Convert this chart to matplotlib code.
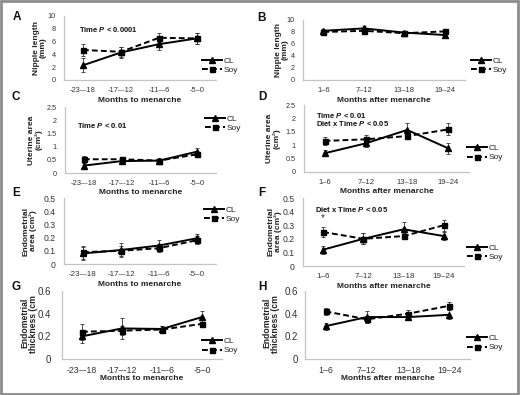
import matplotlib
matplotlib.use('Agg')
import matplotlib.pyplot as plt
from matplotlib.lines import Line2D
from matplotlib.patches import Rectangle
from matplotlib.ticker import FuncFormatter
from matplotlib.transforms import Bbox

plt.rcParams['font.family'] = ['Liberation Sans', 'DejaVu Sans']
plt.rcParams['mathtext.fontset'] = 'custom'
plt.rcParams['mathtext.rm'] = 'Liberation Sans:bold'
plt.rcParams['mathtext.it'] = 'Liberation Sans:italic:bold'

W, H = 520, 395

before_labels = ['-23–-18', '-17–-12', '-11–-6', '-5–0']
after_labels = ['1–6', '7–12', '13–18', '19–24']

# nipple length (mm)
nipple_before_cl = [2.3, 4.3, 5.6, 6.5]
nipple_before_cl_err = [1.1, 0.8, 0.9, 0.9]
nipple_before_soy = [4.7, 4.4, 6.6, 6.5]
nipple_before_soy_err = [0.9, 0.8, 0.7, 0.9]
nipple_after_cl = [8.2, 8.6, 7.9, 7.5]
nipple_after_cl_err = [0.3, 0.4, 0.3, 0.3]
nipple_after_soy = [8.0, 8.2, 7.8, 8.1]
nipple_after_soy_err = [0.3, 0.3, 0.3, 0.3]

# uterine area (cm2)
uterine_before_cl = [0.28, 0.45, 0.47, 0.81]
uterine_before_cl_err = [0.08, 0.08, 0.06, 0.13]
uterine_before_soy = [0.52, 0.52, 0.47, 0.71]
uterine_before_soy_err = [0.14, 0.08, 0.08, 0.1]
uterine_after_cl = [0.70, 1.07, 1.57, 0.88]
uterine_after_cl_err = [0.12, 0.15, 0.27, 0.2]
uterine_after_soy = [1.16, 1.22, 1.34, 1.59]
uterine_after_soy_err = [0.15, 0.15, 0.12, 0.22]

# endometrial area (cm2)
endo_area_before_cl = [0.08, 0.106, 0.14, 0.195]
endo_area_before_cl_err = [0.05, 0.05, 0.04, 0.035]
endo_area_before_soy = [0.09, 0.10, 0.12, 0.18]
endo_area_before_soy_err = [0.05, 0.04, 0.03, 0.03]
endo_area_after_cl = [0.12, 0.20, 0.27, 0.22]
endo_area_after_cl_err = [0.03, 0.04, 0.055, 0.03]
endo_area_after_soy = [0.25, 0.20, 0.22, 0.30]
endo_area_after_soy_err = [0.035, 0.04, 0.02, 0.04]

# endometrial thickness (cm)
endo_thick_before_cl = [0.20, 0.27, 0.265, 0.37]
endo_thick_before_cl_err = [0.06, 0.09, 0.03, 0.05]
endo_thick_before_soy = [0.24, 0.25, 0.26, 0.31]
endo_thick_before_soy_err = [0.07, 0.04, 0.03, 0.03]
endo_thick_after_cl = [0.29, 0.37, 0.37, 0.39]
endo_thick_after_cl_err = [0.03, 0.055, 0.03, 0.04]
endo_thick_after_soy = [0.42, 0.35, 0.40, 0.47]
endo_thick_after_soy_err = [0.03, 0.03, 0.03, 0.035]

fig = plt.figure(figsize=(W / 100, H / 100), dpi=100)
fig.patch.set_facecolor('white')


def fx(x):
    return x / W


def fy(y):
    return 1 - y / H


def panel(box, labels, cl, cl_err, soy, soy_err, ymax, yticks, ylabel, xlabel,
          ylab_x, legend_xy, letter_xy, letter, xsize=5.5, ysize=5.5, ypad=6,
          ylab_size=6, ylab_y=None, clip_top=None):
    l, t, r, b = box
    ax = fig.add_axes([fx(l), fy(b), (r - l) / W, (b - t) / H])
    x = list(range(len(labels)))
    ax.errorbar(x, cl, yerr=cl_err, color='black', ls='-', marker='^', ms=4,
                lw=1.4, elinewidth=0.6, ecolor='#333333', capsize=1.5, capthick=0.6)
    ax.errorbar(x, soy, yerr=soy_err, color='black', ls='--', marker='s', ms=3.6,
                lw=1.4, elinewidth=0.6, ecolor='#333333', capsize=1.5, capthick=0.6,
                dashes=(3, 1.6))
    ax.set_xlim(-0.5, len(labels) - 0.5)
    ax.set_ylim(0, ymax)
    ax.set_xticks(x)
    ax.set_xticklabels(labels)
    ax.set_yticks(yticks)
    ax.yaxis.set_major_formatter(FuncFormatter(lambda v, p: '%g' % v))
    ax.tick_params(length=0, colors='#333333')
    ax.tick_params(axis='x', pad=5, labelsize=xsize)
    ax.tick_params(axis='y', pad=ypad, labelsize=ysize)
    for s in ['top', 'right']:
        ax.spines[s].set_visible(False)
    for s in ['left', 'bottom']:
        ax.spines[s].set_color('#c4c4c4')
        ax.spines[s].set_linewidth(0.9)
    ax.patch.set_alpha(0)

    fig.text(fx((l + r) / 2), fy(b + 20), xlabel, ha='center', va='center',
             fontsize=6, fontweight='bold', color='#222222')
    if ylab_y is None:
        ylab_y = (t + b) / 2
    yl = fig.text(fx(ylab_x), fy(ylab_y), ylabel, ha='center', va='center',
                  rotation=90, fontsize=ylab_size, fontweight='bold', color='#222222',
                  multialignment='center', linespacing=1.0)
    if clip_top is not None:
        # the top end of this label is cut off in the original figure
        yl.set_clip_box(Bbox([[0, 0], [W, H - clip_top]]))
        yl.set_clip_on(True)
    fig.text(fx(letter_xy[0]), fy(letter_xy[1]), letter, ha='center', va='center',
             fontsize=8.5, fontweight='bold', color='#111111')

    handles = [Line2D([], [], color='black', ls='-', marker='^', ms=4, lw=1.4),
               Line2D([], [], color='black', ls='--', marker='s', ms=3.6, lw=1.4,
                      dashes=(3, 1.6))]
    fig.legend(handles, ['CL', 'Soy'], loc='center left',
               bbox_to_anchor=(fx(legend_xy[0]), fy(legend_xy[1])),
               frameon=False, fontsize=6, handlelength=2.4, handletextpad=0.2,
               labelspacing=0.15, borderpad=0, borderaxespad=0,
               labelcolor='#222222')
    return ax


before_title = 'Months to menarche'
after_title = 'Months after menarche'

axA = panel((64, 16, 216, 80), before_labels, nipple_before_cl, nipple_before_cl_err,
            nipple_before_soy, nipple_before_soy_err, 10, [0, 2, 4, 6, 8, 10],
            'Nipple length\n(mm)', before_title, 40, (202, 65.5), (17, 17), 'A',
            xsize=5.4, ysize=5.2)
axB = panel((303, 20, 465, 80), after_labels, nipple_after_cl, nipple_after_cl_err,
            nipple_after_soy, nipple_after_soy_err, 10, [0, 2, 4, 6, 8, 10],
            'Nipple length\n(mm)', after_title, 282, (471, 65.5), (261, 18), 'B',
            xsize=5.4, ysize=5.2)
axC = panel((65, 107, 216, 173), before_labels, uterine_before_cl, uterine_before_cl_err,
            uterine_before_soy, uterine_before_soy_err, 2.5, [0, 0.5, 1, 1.5, 2, 2.5],
            'Uterine area\n(cm²)', before_title, 35, (205, 123.5), (16, 97), 'C',
            xsize=5.5, ysize=5.2)
axD = panel((304, 105, 469, 172), after_labels, uterine_after_cl, uterine_after_cl_err,
            uterine_after_soy, uterine_after_soy_err, 2.5, [0, 0.5, 1, 1.5, 2, 2.5],
            'Uterine area\n(cm²)', after_title, 273, (467, 153), (262, 97), 'D',
            xsize=5.5, ysize=5.2)
axE = panel((64, 198, 216, 264), before_labels, endo_area_before_cl, endo_area_before_cl_err,
            endo_area_before_soy, endo_area_before_soy_err, 0.5, [0, 0.1, 0.2, 0.3, 0.4, 0.5],
            'Endometrial\narea (cm²)', before_title, 30, (204, 214.5), (16, 193), 'E',
            xsize=5.8, ysize=6.2)
axF = panel((303, 198, 464, 266), after_labels, endo_area_after_cl, endo_area_after_cl_err,
            endo_area_after_soy, endo_area_after_soy_err, 0.5, [0, 0.1, 0.2, 0.3, 0.4, 0.5],
            'Endometrial\narea (cm²)', after_title, 275, (467, 252.5), (262, 193), 'F',
            xsize=5.8, ysize=6.2)
axG = panel((62, 291, 222, 359), before_labels, endo_thick_before_cl, endo_thick_before_cl_err,
            endo_thick_before_soy, endo_thick_before_soy_err, 0.6, [0, 0.2, 0.4, 0.6],
            'Endometrial\nthickness (cm)', before_title, 29, (202, 346), (16, 287), 'G',
            xsize=6.3, ysize=7, ypad=8, ylab_size=6.2, ylab_y=323, clip_top=296)
axH = panel((305, 291, 470, 359), after_labels, endo_thick_after_cl, endo_thick_after_cl_err,
            endo_thick_after_soy, endo_thick_after_soy_err, 0.6, [0, 0.2, 0.4, 0.6],
            'Endometrial\nthickness (cm)', after_title, 271, (467, 343), (262, 287), 'H',
            xsize=6.3, ysize=7, ypad=5, ylab_size=6.2, ylab_y=323, clip_top=296)

# statistics notes
note = dict(fontsize=5.5, color='#111111', va='center', ha='left')
fig.text(fx(79), fy(29), 'Time $P$ < 0.0001', fontweight='bold', **note)
fig.text(fx(77), fy(125), 'Time $P$ < 0.01', fontweight='bold', **note)
fig.text(fx(316), fy(115), 'Time $P$ < 0.01', fontweight='bold', **note)
fig.text(fx(316), fy(124), 'Diet x Time $P$ < 0.05', fontweight='bold', **note)
fig.text(fx(315), fy(210), 'Diet x Time $P$ < 0.05', fontweight='bold', **note)
axF.annotate('*', (0, endo_area_after_soy[0] + endo_area_after_soy_err[0]),
             xytext=(0, 3), textcoords='offset points', ha='center', va='bottom',
             fontsize=7, color='#333333')

# outer frame
fig.patches.append(Rectangle((0.001, 0.002), 0.995, 0.995, transform=fig.transFigure,
                             fill=False, edgecolor='#8c8c8c', linewidth=2))

fig.savefig('out.png', dpi=100)
